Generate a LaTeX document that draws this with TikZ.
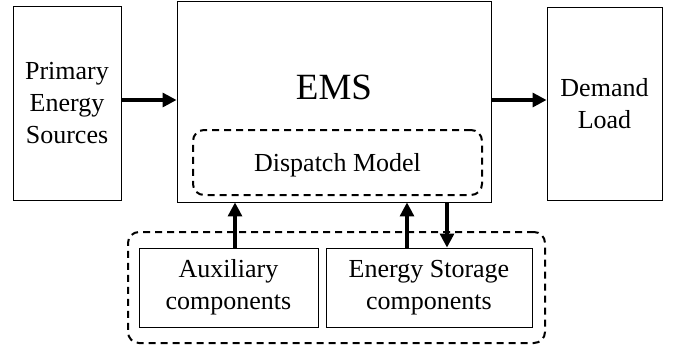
\documentclass[tikz,border=0pt]{standalone}
\usepackage{fontspec}
\setmainfont{Liberation Serif}
\usepackage{tikz}
\usetikzlibrary{arrows.meta}

\begin{document}
\begin{tikzpicture}[x=1pt,y=-1pt,
  block/.style={draw,line width=0.9pt,align=center,inner sep=0pt,
    font=\fontsize{26}{32}\selectfont},
  dashbox/.style={draw,line width=2pt,dash pattern=on 7pt off 5pt,
    rounded corners=11pt,inner sep=0pt},
  flow/.style={line width=3.2pt,-{Triangle[length=14pt,width=14pt]}}]
\useasboundingbox (0,0) rectangle (681,354);
% main blocks
\node[block,minimum width=108pt,minimum height=194pt] (primary) at (67,103) {Primary\\Energy\\Sources};
\node[block,minimum width=314pt,minimum height=201pt] (ems) at (334,101.5) {};
\node[block,minimum width=115pt,minimum height=193pt] (demand) at (604.5,103.5) {Demand\\Load};
\node[font=\fontsize{37}{40}\selectfont] (emslabel) at (334,87) {EMS};
\node[dashbox,minimum width=289pt,minimum height=65pt,text depth=0pt,
  font=\fontsize{26}{31}\selectfont] (dispatch) at (337.5,162.5) {Dispatch Model};
% components
\node[dashbox,minimum width=417pt,minimum height=111pt] (group) at (336.5,287.5) {};
\node[block,minimum width=179pt,minimum height=79pt] (aux) at (228.5,287.5) {Auxiliary\\components};
\node[block,minimum width=206pt,minimum height=79pt] (storage) at (429,287.5) {Energy Storage\\components};
% power flows
\draw[flow] (primary.east |- 0,100) -- (ems.west |- 0,100);
\draw[flow] (ems.east |- 0,100) -- (demand.west |- 0,100);
\draw[flow] ([xshift=6.5pt]aux.north) -- ([xshift=6.5pt]aux.north |- ems.south);
\draw[flow] ([xshift=-22pt]storage.north) -- ([xshift=-22pt]storage.north |- ems.south);
\draw[flow] ([xshift=18pt]storage.north |- ems.south) -- ([xshift=18pt]storage.north);
\end{tikzpicture}
\end{document}
